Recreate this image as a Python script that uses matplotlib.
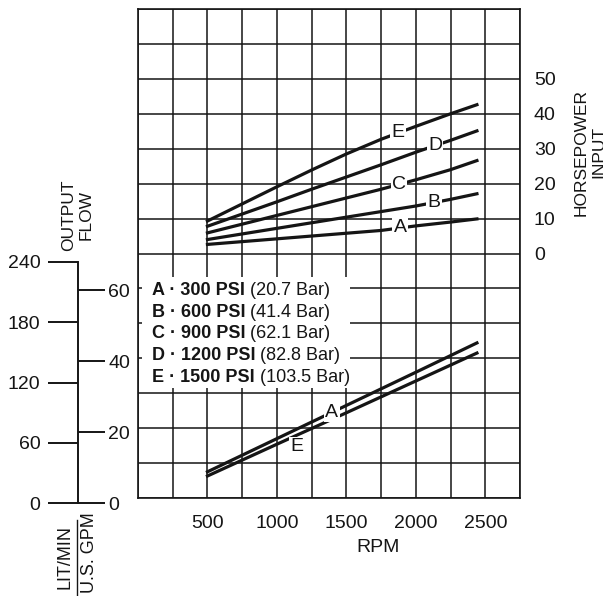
import numpy as np
import matplotlib
matplotlib.use("Agg")
import matplotlib.pyplot as plt
from matplotlib.patches import Rectangle
from matplotlib.lines import Line2D

plt.rcParams['font.family'] = ['Liberation Sans', 'DejaVu Sans']

# horsepower input curves (upper part)
rpm_hp = [500, 750, 1000, 1250, 1500, 1750, 2000, 2250, 2440]
hp_A = [2.6, 3.4, 4.2, 5.0, 5.8, 6.6, 7.9, 9.0, 9.9]
hp_B = [4.0, 5.6, 7.2, 8.8, 10.4, 12.0, 13.6, 15.5, 17.1]
hp_C = [5.9, 8.4, 10.9, 13.4, 15.9, 18.4, 21.1, 24.0, 26.6]
hp_D = [7.8, 11.3, 14.8, 18.4, 21.9, 25.4, 29.0, 32.4, 35.1]
hp_E = [9.3, 14.2, 19.1, 23.9, 28.5, 32.7, 36.4, 40.0, 42.6]

# output flow curves (lower part), U.S. GPM
rpm_flow = [500, 1000, 1500, 2000, 2440]
gpm_A = [7.5, 17.0, 26.5, 36.0, 44.4]
gpm_E = [6.3, 15.4, 24.4, 33.5, 41.5]

curve_names = ['A', 'B', 'C', 'D', 'E']
psi = [300, 600, 900, 1200, 1500]
bar = [20.7, 41.4, 62.1, 82.8, 103.5]

rpm_ticks = [500, 1000, 1500, 2000, 2500]
hp_ticks = [0, 10, 20, 30, 40, 50]
lpm_ticks = [0, 60, 120, 180, 240]
gpm_ticks = [0, 20, 40, 60]

W, H = 603, 596
fig = plt.figure(figsize=(W / 100, H / 100), dpi=100)
fig.patch.set_facecolor('white')

def fx(px):
    return px / W

def fy(px):
    return 1 - px / H

ink = '#151515'
num_size = 14
ax = fig.add_axes([fx(138), fy(498), (520 - 138) / W, (498 - 9) / H])
ax.set_xlim(0, 2750)
ax.set_ylim(0, 140)
ax.set_xticks(rpm_ticks)
ax.set_xticks(np.arange(0, 2751, 250), minor=True)
ax.set_yticks(np.arange(0, 141, 10))
ax.set_yticklabels([])
ax.grid(True, which='both', color=ink, lw=1.1)
ax.tick_params(axis='both', which='both', length=0)
ax.tick_params(axis='x', pad=12, labelsize=num_size, colors=ink)
for s in ax.spines.values():
    s.set_color(ink)
    s.set_linewidth(1.2)
ax.set_axisbelow(True)

ax.set_xlabel('RPM', fontsize=num_size, color=ink)
ax.xaxis.set_label_coords((378 - 138) / 382, -(539 - 498) / 489)

# lower flow lines
ax.plot(rpm_flow, gpm_A, color=ink, lw=2.3, zorder=3)
ax.plot(rpm_flow, gpm_E, color=ink, lw=2.3, zorder=3)
lbl = dict(fontsize=14, color=ink, ha='center', va='center', zorder=6,
           bbox=dict(facecolor='white', edgecolor='none', pad=1.0))
ax.text(1395, np.interp(1395, rpm_flow, gpm_A), 'A', **lbl)
ax.text(1142, np.interp(1142, rpm_flow, gpm_E) - 3.3, 'E', **lbl)

# legend box
ax.add_patch(Rectangle((0.0105, 0.225), 0.545, 0.227, transform=ax.transAxes,
                       facecolor='white', edgecolor='none', zorder=4))
row_y = [0.4239, 0.3789, 0.3354, 0.2914, 0.2474]
for name, p, b, yy in zip(curve_names, psi, bar, row_y):
    t = ax.text(0.0366, yy, f'{name} · {p} PSI ', transform=ax.transAxes,
                fontweight='bold', fontsize=13, color=ink, va='center',
                ha='left', zorder=5)
    ax.annotate(f'({b} Bar)', xy=(1, 0.5), xycoords=t, va='center', ha='left',
                fontsize=13, color=ink, zorder=5)

# horsepower curves on twin axis
ax_hp = ax.twinx()
ax_hp.set_ylim(-70, 70)
ax_hp.set_yticks(hp_ticks)
ax_hp.tick_params(axis='y', length=0, pad=10, labelsize=num_size, colors=ink)
for s in ax_hp.spines.values():
    s.set_visible(False)
hp_sets = [hp_A, hp_B, hp_C, hp_D, hp_E]
hp_label_rpm = [1886, 2132, 1879, 2138, 1874]
for name, vals, lr in zip(curve_names, hp_sets, hp_label_rpm):
    ax_hp.plot(rpm_hp, vals, color=ink, lw=2.3, zorder=3)
    ax_hp.text(lr, np.interp(lr, rpm_hp, vals), name, **lbl)

# left output flow scale: LIT/MIN and U.S. GPM
ax_l = fig.add_axes([fx(78), fy(503), 0.0001, (503 - 262) / H])
ax_l.set_ylim(0, 240)
ax_l.set_yticks(lpm_ticks)
ax_l.set_xticks([])
for k in ['top', 'right', 'bottom']:
    ax_l.spines[k].set_visible(False)
ax_l.spines['left'].set_color(ink)
ax_l.spines['left'].set_linewidth(1.4)
ax_l.tick_params(axis='y', length=21.6, width=1.4, pad=5.5, labelsize=num_size,
                 colors=ink)
ax_l.patch.set_visible(False)

ax_g = ax_l.twinx()
ax_g.set_ylim(0, 67.9)
ax_g.set_yticks(gpm_ticks)
for s in ax_g.spines.values():
    s.set_visible(False)
ax_g.tick_params(axis='y', length=19.4, width=1.4, pad=2.5, labelsize=num_size,
                 colors=ink)

# axis titles
fig.text(fx(590), fy(152), 'HORSEPOWER\nINPUT', rotation=90, ha='center',
         va='center', multialignment='center', fontsize=12.5, color=ink,
         linespacing=1.2)
fig.text(fx(77), fy(215), 'OUTPUT\nFLOW', rotation=90, ha='center',
         va='center', multialignment='center', fontsize=12.5, color=ink,
         linespacing=1.2)
fig.text(fx(65), fy(557), 'LIT/MIN', rotation=90, ha='center', va='center',
         fontsize=13, color=ink)
fig.text(fx(89), fy(553), 'U.S. GPM', rotation=90, ha='center', va='center',
         fontsize=13, color=ink)
fig.add_artist(Line2D([fx(77), fx(77)], [fy(520), fy(596)], color=ink, lw=1.0))

fig.savefig('out.png', dpi=100, facecolor='white')
